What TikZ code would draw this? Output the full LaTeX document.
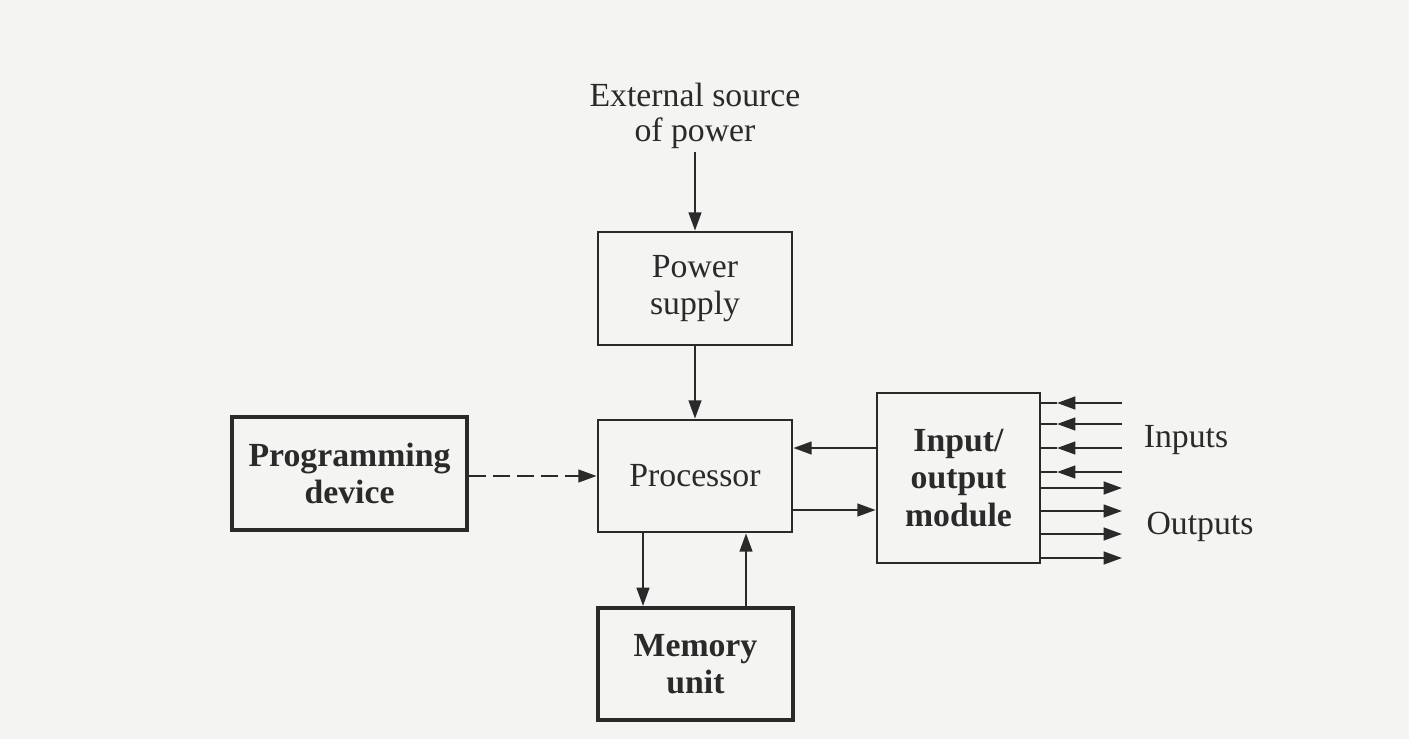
\documentclass[tikz,border=0pt]{standalone}
\usepackage{fontspec}
\setmainfont{Liberation Serif}
\usetikzlibrary{arrows.meta,calc}
\definecolor{ink}{HTML}{2A2A2A}
\definecolor{paper}{HTML}{F4F4F2}
\tikzset{
  box/.style={draw=ink, line width=1.9pt, align=center, text=ink, font=\fontsize{24}{26.5}\selectfont, inner sep=2pt},
  boldbox/.style={box, line width=2.8pt, font=\fontsize{24}{26.5}\selectfont\bfseries},
  arr/.style={draw=ink, line width=1.6pt, -{Triangle[length=13pt,width=9pt]}},
  ln/.style={draw=ink, line width=1.6pt},
  lbl/.style={text=ink, font=\fontsize{24}{25}\selectfont, align=center, inner sep=0pt}
}
\begin{document}
\begin{tikzpicture}[x=0.025cm,y=-0.025cm]
\useasboundingbox[fill=paper] (0,0) rectangle (1409,739);
% boxes
\node[box, minimum width=4.85cm, minimum height=2.825cm] (ps) at (695,288.5) {Power\\supply};
\node[box, minimum width=4.85cm, minimum height=2.8cm] (proc) at (695,476) {Processor};
\node[boldbox, minimum width=5.875cm, minimum height=2.825cm] (prog) at (349.5,473.5) {Programming\\device};
\node[boldbox, minimum width=4.875cm, minimum height=2.8cm] (mem) at (695.5,664) {Memory\\unit};
\node[boldbox, line width=1.9pt, minimum width=4.075cm, minimum height=4.25cm] (io) at (958.5,478) {Input/\\output\\module};
% texts
\node[lbl] (ext) at (695,116) {External source\\of power};
\node[lbl] (inl) at (1186,440) {Inputs};
\node[lbl] (outl) at (1200,527) {Outputs};
% power path
\coordinate (e0) at (695,152);
\draw[arr] (e0) -- (ps.north);
\draw[arr] (ps.south) -- (proc.north);
% programming device
\draw[arr, dashed, dash pattern=on 12pt off 5pt] (prog.east |- 0,476) -- (proc.west |- 0,476);
% memory
\coordinate (m1) at (643,0);
\coordinate (m2) at (746,0);
\draw[arr] (proc.south -| m1) -- (mem.north -| m1);
\draw[arr] (mem.north -| m2) -- (proc.south -| m2);
% io <-> processor
\coordinate (y1) at (0,448);
\coordinate (y2) at (0,510);
\draw[arr] (io.west |- y1) -- (proc.east |- y1);
\draw[arr] (proc.east |- y2) -- (io.west |- y2);
% inputs
\foreach \y [count=\i] in {403,424,448,472}{
  \coordinate (ie\i) at (1122,\y);
  \coordinate (it\i) at (1057,\y);
  \draw[arr] (ie\i) -- (it\i);
  \draw[ln] (it\i) -- (io.east |- it\i);
}
% outputs
\foreach \y [count=\i] in {488,511,534,558}{
  \coordinate (oe\i) at (1122,\y);
  \draw[arr] (io.east |- oe\i) -- (oe\i);
}
\end{tikzpicture}
\end{document}
